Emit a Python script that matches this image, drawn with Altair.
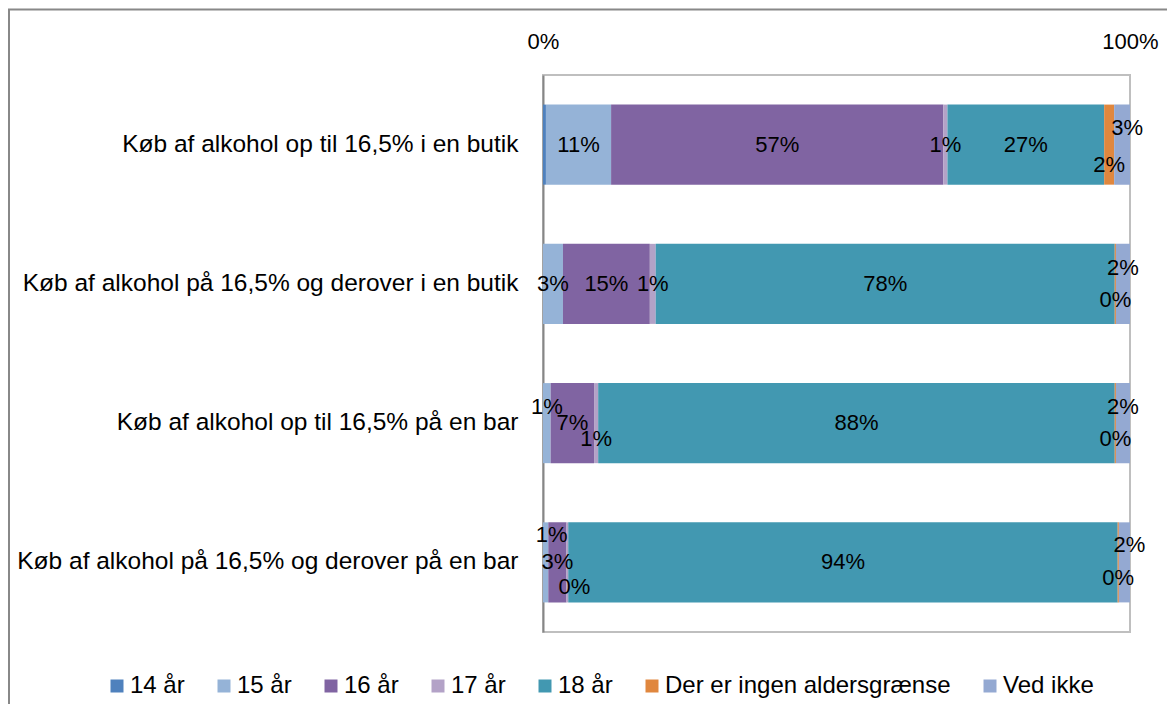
import altair as alt
import pandas as pd

categories = [
    "Køb af alkohol op til 16,5% i en butik",
    "Køb af alkohol på 16,5% og derover i en butik",
    "Køb af alkohol op til 16,5% på en bar",
    "Køb af alkohol på 16,5% og derover på en bar",
]
series = ["14 år", "15 år", "16 år", "17 år", "18 år", "Der er ingen aldersgrænse", "Ved ikke"]
colors = ["#4F81BD", "#95B3D7", "#8064A2", "#B3A2C7", "#4298B1", "#E0873E", "#94A9D2"]

# percentages per category (rows follow `categories`)
v14 = [0.5, 0.0, 0.0, 0.0]
v15 = [11.1, 3.4, 1.3, 0.9]
v16 = [56.6, 14.8, 7.4, 3.1]
v17 = [0.7, 1.0, 0.7, 0.3]
v18 = [26.7, 78.2, 88.0, 93.6]
v_ingen = [1.7, 0.2, 0.2, 0.2]
v_ved = [2.7, 2.4, 2.4, 1.9]
series_values = [v14, v15, v16, v17, v18, v_ingen, v_ved]

tick_values = [0, 100]

# label nudges (dx px, dy px) for the data labels that are shown
label_nudge = {
    (0, 1): (0, 0), (0, 2): (0, 0), (0, 3): (0, 0), (0, 4): (0, 0), (0, 5): (0, 20), (0, 6): (5, -17),
    (1, 1): (0, 0), (1, 2): (0, 0), (1, 3): (0, 0), (1, 4): (0, 0), (1, 5): (0, 16), (1, 6): (0, -16),
    (2, 1): (0, -16), (2, 2): (0, 0), (2, 3): (0, 16), (2, 4): (0, 0), (2, 5): (0, 16), (2, 6): (0, -16),
    (3, 1): (6, -27), (3, 2): (0, 0), (3, 3): (7, 25), (3, 4): (0, 0), (3, 5): (0, 16), (3, 6): (5, -17),
}

W, H = 587, 557
px_per_pct = W / 100.0
FONT = "Liberation Sans"

rows = []
for ci, cat in enumerate(categories):
    for si, s in enumerate(series):
        nud = label_nudge.get((ci, si))
        rows.append({
            "category": cat,
            "series": s,
            "order": si,
            "value": series_values[si][ci],
            "show": nud is not None,
            "dxp": (nud[0] / px_per_pct) if nud else 0.0,
            "dy": nud[1] if nud else 0,
        })
df = pd.DataFrame(rows)

base = alt.Chart(df)

y_scale = alt.Scale(domain=categories, paddingInner=0.425, paddingOuter=0.2125)
x_scale = alt.Scale(domain=[0, 100], nice=False, zero=True)

bars = base.mark_bar().encode(
    x=alt.X(
        "value:Q",
        stack="zero",
        scale=x_scale,
        axis=alt.Axis(
            orient="top", values=tick_values, labelExpr="datum.value + '%'",
            title=None, domain=False, ticks=False, tickSize=0, grid=False,
            labelFontSize=22, labelFont=FONT, labelColor="black", labelPadding=22,
            labelFlush=False,
        ),
    ),
    y=alt.Y(
        "category:N",
        sort=categories,
        scale=y_scale,
        axis=alt.Axis(
            title=None, ticks=False, tickSize=0, domain=True, domainColor="#868686",
            domainWidth=2, labelFontSize=24.5, labelFont=FONT, labelColor="black",
            labelPadding=25, labelLimit=800,
        ),
    ),
    color=alt.Color(
        "series:N",
        scale=alt.Scale(domain=series, range=colors),
        legend=alt.Legend(
            orient="none", legendX=-438, legendY=599, direction="horizontal",
            title=None, symbolType="square", symbolSize=169, symbolStrokeWidth=0,
            symbolOpacity=1, labelFontSize=24, labelFont=FONT, labelColor="black",
            columnPadding=27, labelOffset=1, labelLimit=500,
        ),
    ),
    order=alt.Order("order:Q"),
)

labels_base = (
    base.transform_stack(
        stack="value", groupby=["category"], sort=[alt.SortField("order", "ascending")],
        as_=["x0", "x1"],
    )
    .transform_filter("datum.show")
    .transform_calculate(
        mid="(datum.x0 + datum.x1) / 2 + datum.dxp",
        label="format(datum.value, '.0f') + '%'",
    )
)

text_layers = []
for dyv in sorted(set(v[1] for v in label_nudge.values())):
    text_layers.append(
        labels_base.transform_filter(f"datum.dy == {dyv}")
        .mark_text(dy=dyv, fontSize=22, font=FONT, color="black", align="center", baseline="middle")
        .encode(
            x=alt.X("mid:Q", scale=x_scale),
            y=alt.Y("category:N", sort=categories, scale=y_scale),
            text="label:N",
        )
    )

frame_df = pd.DataFrame({"k": [0]})
frame_left = alt.Chart(frame_df).mark_rule(color="#888888", strokeWidth=2).encode(
    x=alt.value(-534), y=alt.value(-65.5), y2=alt.value(H + 120)
)
frame_top = alt.Chart(frame_df).mark_rule(color="#888888", strokeWidth=2).encode(
    x=alt.value(-535), x2=alt.value(W + 60), y=alt.value(-65.5)
)

chart = (
    alt.layer(bars, *text_layers, frame_left, frame_top)
    .properties(
        width=W, height=H,
        autosize=alt.AutoSizeParams(type="none"),
        padding={"left": 535, "top": 67, "right": 37, "bottom": 72},
        background="white",
    )
    .configure_view(stroke="#BFBFBF", strokeWidth=2)
)

chart.save("out.html", embed_options={"renderer": "svg", "actions": False})
